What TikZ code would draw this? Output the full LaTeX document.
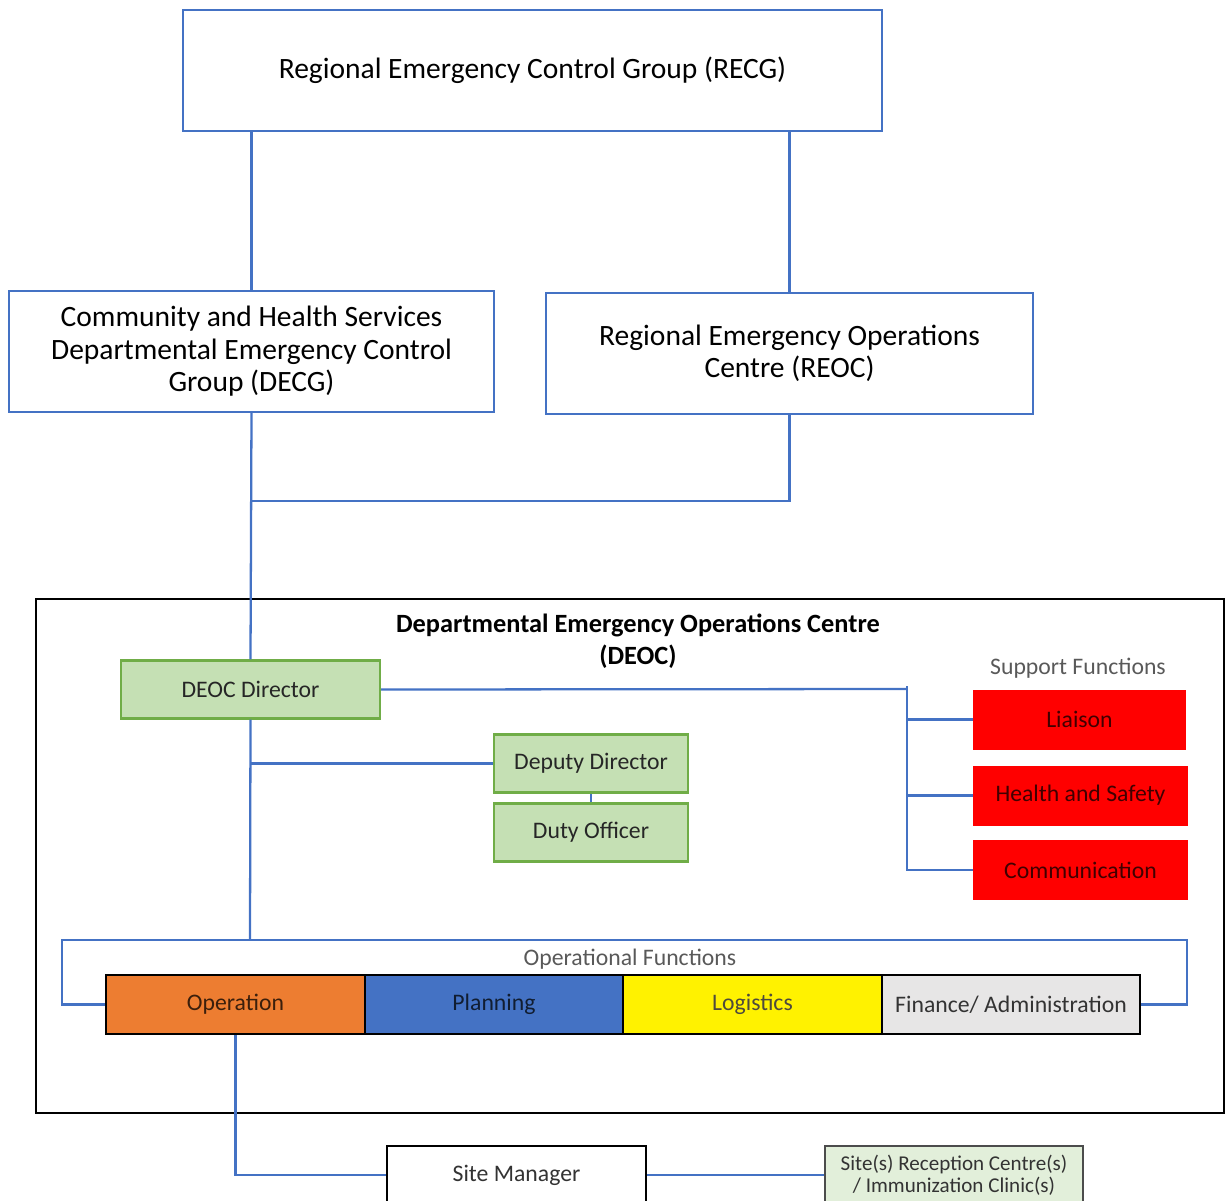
\documentclass[tikz,border=0pt]{standalone}
\usepackage{fontspec}
\setmainfont{Carlito}
\usetikzlibrary{positioning}
\definecolor{lineblue}{HTML}{4472C4}
\definecolor{rolegreen}{HTML}{C5E0B4}
\definecolor{roleedge}{HTML}{70AD47}
\definecolor{opsorange}{HTML}{ED7D31}
\definecolor{opsblue}{HTML}{4472C4}
\definecolor{opsgray}{HTML}{E7E6E6}
\definecolor{sitegreen}{HTML}{E2EFDA}
\definecolor{labelgray}{HTML}{595959}

\begin{document}
\begin{tikzpicture}
[x=0.02cm,y=-0.02cm,
 group/.style={draw=lineblue,line width=1.2pt,fill=white,align=center,inner sep=0pt,minimum height=2.42cm,font=\fontsize{16.8}{18.5}\selectfont},
 rolebox/.style={draw=roleedge,fill=rolegreen,line width=1.2pt,inner sep=0pt,minimum height=1.16cm,text=black!85,font=\fontsize{13.5}{15}\selectfont},
 support/.style={fill=red,inner sep=0pt,minimum width=4.3cm,minimum height=1.2cm,text=red!25!black,font=\fontsize{13.5}{15}\selectfont},
 opsbox/.style={draw=black,line width=1.2pt,inner sep=0pt,minimum width=5.17cm,minimum height=1.18cm,font=\fontsize{13.5}{15}\selectfont},
 site/.style={draw=black,line width=1.2pt,inner sep=0pt,minimum width=5.17cm,minimum height=1.16cm,align=center},
 tag/.style={text=labelgray,inner sep=0pt,font=\fontsize{13.5}{15}\selectfont},
 link/.style={draw=lineblue,line width=1.3pt}]
\useasboundingbox (0,0) rectangle (1225,1201);
\clip (0,0) rectangle (1225,1201);

% top level groups
\node[group,minimum width=13.98cm] (recg) at (532.5,70.5) {Regional Emergency Control Group (RECG)};
\node[group,minimum width=9.7cm] (decg) at (251.5,351.5) {Community and Health Services\\Departmental Emergency Control\\Group (DECG)};
\node[group,minimum width=9.74cm] (reoc) at (789.5,353.5) {Regional Emergency Operations\\Centre (REOC)};

% DEOC frame
\node[draw=black,line width=1.2pt,inner sep=0pt,minimum width=23.76cm,minimum height=10.28cm] (deoc) at (630,856) {};
\node[align=center,inner sep=0pt,font=\bfseries\fontsize{15}{18.5}\selectfont] (deoctitle) at (638,641) {Departmental Emergency Operations Centre\\(DEOC)};

\node[rolebox,minimum width=5.18cm] (dir) at (250.5,689.5) {DEOC Director};
\node[rolebox,minimum width=3.88cm] (dep) at (591,763.5) {Deputy Director};
\node[rolebox,minimum width=3.88cm] (duty) at (591,832.5) {Duty Officer};

\node[tag] (suptag) at (1078,668) {Support Functions};
\node[support,minimum width=4.26cm] (liaison) at (1079.5,719.5) {Liaison};
\node[support] (hs) at (1080.5,795.5) {Health and Safety};
\node[support] (comm) at (1080.5,870) {Communication};

\node[tag] (optag) at (630,959) {Operational Functions};
\node[opsbox,fill=opsorange,text=opsorange!25!black] (op) at (235.5,1004.5) {Operation};
\node[opsbox,fill=opsblue,text=opsblue!25!black] (plan) at (494,1004.5) {Planning};
\node[opsbox,fill=yellow,text=yellow!20!black] (log) at (752.5,1004.5) {Logistics};
\node[opsbox,fill=opsgray,text=black!80] (fin) at (1011,1004.5) {Finance/ Administration};

% below the DEOC
\node[site,fill=white,text=black!80,font=\fontsize{13.5}{15}\selectfont] (mgr) at (516.5,1175) {Site Manager};
\node[site,draw=black!70,fill=sitegreen,text=black!80,font=\fontsize{12}{12.5}\selectfont] (clinic) at (954,1175) {Site(s) Reception Centre(s)\\/ Immunization Clinic(s)};

\coordinate (join) at (250,501);
\coordinate (sptop) at (907,689);
\coordinate (opsjoin) at (250,940);
\coordinate (opsleft) at (62,940);
\coordinate (opsright) at (1187,940);

\draw [link] (recg.south -| decg.north) -- (decg.north);
\draw [link] (recg.south -| reoc.north) -- (reoc.north);
\draw [link] (decg.south) -- (dir.north);
\draw [link] (reoc.south) |- (join);
\draw [link] (dir.east) -- (sptop);
\draw [link] (sptop |- 0,686) |- (comm.west);
\draw [link] (sptop |- liaison.west) -- (liaison.west);
\draw [link] (sptop |- hs.west) -- (hs.west);
\draw [link] (dir.south) -- (opsjoin);
\draw [link] (dir.south |- dep.west) -- (dep.west);
\draw [link] (dep.south) -- (duty.north);
\draw [link] (op.west) -| (opsleft) -- (opsright) |- (fin.east);
\draw [link] (op.south) |- (mgr.west);
\draw [link] (mgr.east) -- (clinic.west);
\end{tikzpicture}
\end{document}
